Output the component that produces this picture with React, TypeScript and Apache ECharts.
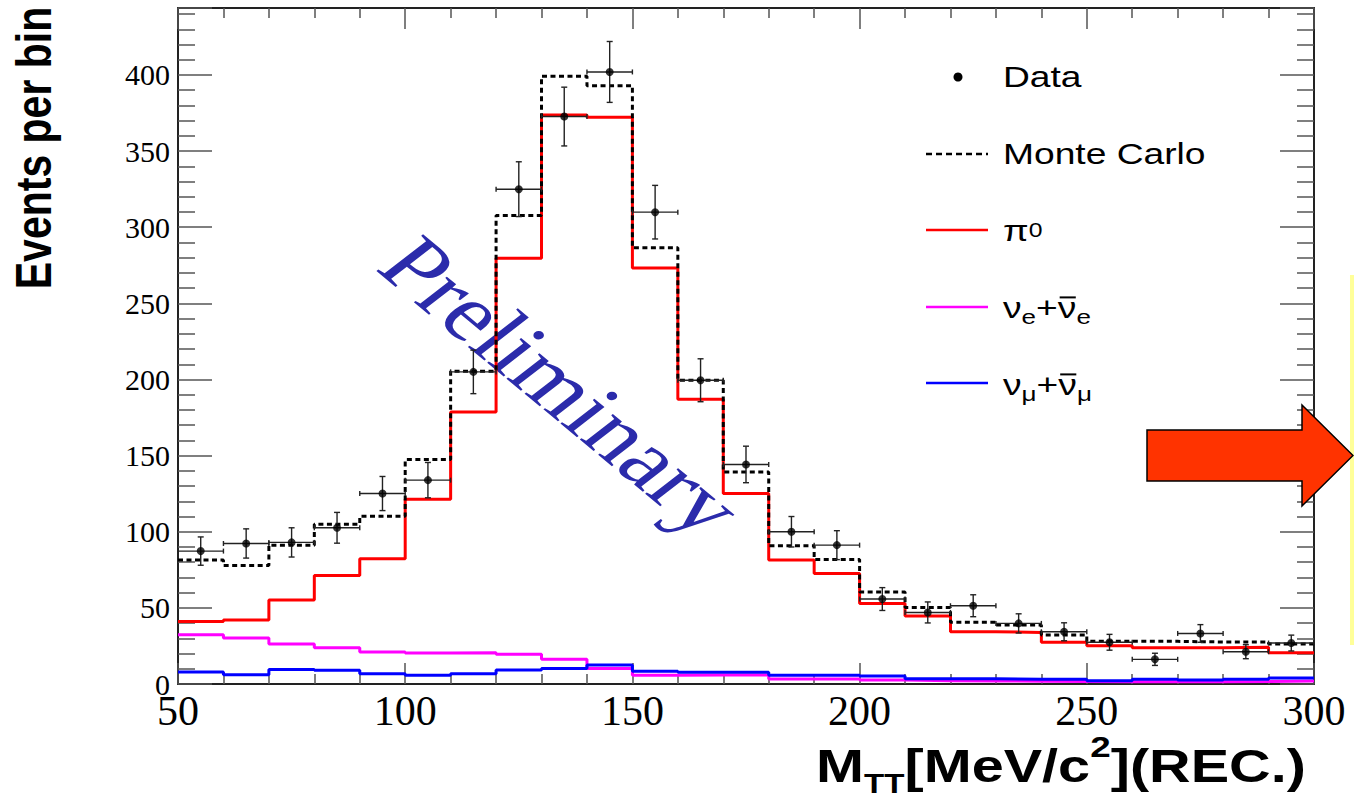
import React, { useEffect, useRef } from "react";
import * as echarts from "echarts";

// Histogram binning (MeV/c^2)
const binEdges = [50, 60, 70, 80, 90, 100, 110, 120, 130, 140, 150, 160, 170, 180, 190, 200, 210, 220, 230, 240, 250, 260, 270, 280, 290, 300];
const binCenters = [55, 65, 75, 85, 95, 105, 115, 125, 135, 145, 155, 165, 175, 185, 195, 205, 215, 225, 235, 245, 255, 265, 275, 285, 295];

// Measured events per bin and their statistical errors
const dataCounts = [87.3, 92.3, 93.0, 102.6, 125.1, 133.9, 205.0, 325.0, 372.7, 402.0, 309.9, 199.5, 144.2, 100.0, 91.2, 55.8, 47.0, 51.4, 39.8, 34.3, 27.4, 16.2, 33.2, 21.2, 26.9];
const dataErrors = [9.3, 9.6, 9.6, 10.1, 11.2, 11.6, 14.3, 18.0, 19.3, 20.0, 17.6, 14.1, 12.0, 10.0, 9.5, 7.5, 6.9, 7.2, 6.3, 5.9, 5.2, 4.0, 5.8, 4.6, 5.2];

// Simulated distributions
const monteCarlo = [81.4, 77.9, 91.2, 105.0, 110.2, 147.4, 205.4, 307.7, 399.2, 393.0, 286.5, 199.5, 139.3, 90.8, 81.8, 60.4, 50.3, 40.5, 38.7, 32.2, 28.0, 28.0, 27.6, 27.6, 26.2];
const pi0 = [41.0, 42.0, 55.1, 71.3, 82.2, 121.4, 178.7, 279.7, 373.8, 372.3, 273.2, 187.0, 125.1, 81.4, 72.6, 52.9, 44.6, 34.3, 33.9, 27.4, 25.2, 23.8, 23.8, 24.2, 20.6];
const nuE = [32.4, 30.2, 26.2, 23.8, 21.0, 20.3, 20.6, 19.5, 16.2, 10.1, 5.7, 5.9, 5.9, 3.3, 3.3, 2.6, 2.2, 2.0, 1.8, 1.6, 1.5, 1.5, 1.5, 1.6, 2.0];
const nuMu = [7.9, 6.1, 9.6, 9.0, 6.8, 5.7, 6.8, 9.2, 10.1, 12.5, 8.3, 7.7, 7.7, 5.7, 5.7, 5.2, 3.5, 3.5, 3.1, 3.1, 2.2, 3.1, 2.6, 3.1, 3.9];

const SANS = "Liberation Sans";
const SERIF = "Liberation Serif";

// histogram outline: one point per bin edge, last bin repeated to close the top
const stepData = (vals: number[]) =>
  binEdges.map((e, i) => [e, vals[Math.min(i, vals.length - 1)]]);

let measureCtx: CanvasRenderingContext2D | null = null;
function measure(t: string, size: number, weight: string) {
  if (!measureCtx) measureCtx = document.createElement("canvas").getContext("2d");
  measureCtx!.font = `${weight} ${size}px "${SANS}"`;
  return measureCtx!.measureText(t).width;
}

type Run = { t: string; size: number; dy: number; bar?: boolean };

// lays out a line of text pieces (with sub/superscripts) on a baseline at local y = 0
function textRuns(runs: Run[], weight: string, color: string) {
  const children: any[] = [];
  let cx = 0;
  for (const r of runs) {
    const w = measure(r.t, r.size, weight);
    children.push({
      type: "text",
      x: cx,
      y: r.dy - 0.3465 * r.size,
      style: {
        text: r.t,
        fontSize: r.size,
        fontWeight: weight,
        fontFamily: SANS,
        fill: color,
        align: "left",
        verticalAlign: "middle",
      },
    });
    if (r.bar) {
      const by = r.dy - 0.52 * r.size - 5;
      children.push({
        type: "line",
        shape: { x1: cx + 1.5, y1: by, x2: cx + w - 0.5, y2: by },
        style: { stroke: color, lineWidth: 2 },
      });
    }
    cx += w;
  }
  return { children, width: cx };
}

function buildGraphic() {
  const els: any[] = [];

  // y axis title
  els.push({
    type: "text",
    x: 33,
    y: 148,
    rotation: Math.PI / 2,
    scaleY: 1.24,
    style: {
      text: "Events per bin",
      fontSize: 41,
      fontWeight: "bold",
      fontFamily: SANS,
      fill: "#000",
      align: "center",
      verticalAlign: "middle",
    },
  });

  // x axis title
  const xt = textRuns(
    [
      { t: "M", size: 47, dy: 0 },
      { t: "TT", size: 27, dy: 11 },
      { t: "[MeV/c", size: 47, dy: 0 },
      { t: "2", size: 30, dy: -25 },
      { t: "](REC.)", size: 47, dy: 0 },
    ],
    "bold",
    "#000"
  );
  const xtScale = 490 / xt.width;
  els.push({ type: "group", x: 1306 - xt.width * xtScale, y: 782, scaleX: xtScale, children: xt.children });

  // legend
  const LS = 30;
  const SUB = 21;
  const legScale = 1.24;
  const legX = 1003;
  const legendRows: { runs: Run[]; baseline: number }[] = [
    { runs: [{ t: "Data", size: LS, dy: 0 }], baseline: 87 },
    { runs: [{ t: "Monte Carlo", size: LS, dy: 0 }], baseline: 164 },
    { runs: [{ t: "π", size: LS, dy: 0 }, { t: "0", size: 20, dy: -4 }], baseline: 241 },
    {
      runs: [
        { t: "ν", size: LS, dy: 0 },
        { t: "e", size: SUB, dy: 6 },
        { t: "+", size: LS, dy: 0 },
        { t: "ν", size: LS, dy: 0, bar: true },
        { t: "e", size: SUB, dy: 6 },
      ],
      baseline: 318,
    },
    {
      runs: [
        { t: "ν", size: LS, dy: 0 },
        { t: "μ", size: SUB, dy: 6 },
        { t: "+", size: LS, dy: 0 },
        { t: "ν", size: LS, dy: 0, bar: true },
        { t: "μ", size: SUB, dy: 6 },
      ],
      baseline: 395,
    },
  ];
  for (const row of legendRows) {
    const r = textRuns(row.runs, "normal", "#000");
    els.push({ type: "group", x: legX, y: row.baseline, scaleX: legScale, children: r.children });
  }
  // legend keys
  els.push({ type: "circle", shape: { cx: 958, cy: 77, r: 4.5 }, style: { fill: "#000" } });
  els.push({
    type: "line",
    shape: { x1: 926, y1: 154, x2: 988, y2: 154 },
    style: { stroke: "#000", lineWidth: 2.5, lineDash: [6, 4] },
  });
  const keyLines: [number, string][] = [
    [230, "#ff0000"],
    [307, "#ff00ff"],
    [383, "#0000ff"],
  ];
  for (const [y, c] of keyLines) {
    els.push({ type: "line", shape: { x1: 926, y1: y, x2: 988, y2: y }, style: { stroke: c, lineWidth: 2.5 } });
  }

  // watermark
  els.push({
    type: "group",
    x: 562,
    y: 386,
    scaleX: 1.25,
    children: [
      {
        type: "text",
        rotation: (-46 * Math.PI) / 180,
        style: {
          text: "Preliminary",
          fontSize: 80,
          fontFamily: SERIF,
          fill: "#2b2bab",
          align: "center",
          verticalAlign: "middle",
        },
      },
    ],
  });

  // side marker bar and arrow
  els.push({ type: "rect", shape: { x: 1350, y: 275, width: 4, height: 370 }, style: { fill: "#ffff99" } });
  els.push({
    type: "polygon",
    shape: {
      points: [
        [1147, 430],
        [1302, 430],
        [1302, 405],
        [1353, 455.5],
        [1302, 506],
        [1302, 481],
        [1147, 481],
      ],
    },
    style: { fill: "#ff3300", stroke: "#000", lineWidth: 1.5 },
  });

  return els.map((e) => ({ ...e, z: 100, silent: true }));
}

const tickStyle = { color: "#555", width: 1.5 };

function xAxisDef(position: "bottom" | "top") {
  return {
    type: "value",
    position,
    min: 50,
    max: 300,
    interval: 50,
    axisLine: { show: true, onZero: false, lineStyle: { color: "#222", width: 2 } },
    axisTick: { show: true, inside: true, length: 21, lineStyle: tickStyle },
    minorTick: { show: true, splitNumber: 5, length: 10, lineStyle: tickStyle },
    splitLine: { show: false },
    axisLabel: {
      show: position === "bottom",
      fontFamily: SERIF,
      fontSize: 42,
      color: "#000",
      margin: 6,
    },
  };
}

function yAxisDef(position: "left" | "right") {
  return {
    type: "value",
    position,
    min: 0,
    max: 444,
    interval: 50,
    axisLine: { show: true, onZero: false, lineStyle: { color: "#222", width: 2 } },
    axisTick: { show: true, inside: true, length: 34, lineStyle: tickStyle },
    minorTick: { show: true, splitNumber: 5, length: 17, lineStyle: tickStyle },
    splitLine: { show: false },
    axisLabel: {
      show: position === "left",
      fontFamily: SERIF,
      fontSize: 30,
      color: "#000",
      margin: 8,
      showMaxLabel: false,
      formatter: (v: number) => (v % 50 === 0 ? String(v) : ""),
    },
  };
}

function histSeries(name: string, vals: number[], color: string, z: number, dashed = false) {
  return {
    name,
    type: "line",
    step: "end",
    data: stepData(vals),
    symbol: "none",
    silent: true,
    z,
    lineStyle: { color, width: 3, type: dashed ? [5, 3.5] : "solid" },
  };
}

export default function App() {
  const ref = useRef<HTMLDivElement>(null);

  useEffect(() => {
    if (!ref.current) return;
    const chart = echarts.init(ref.current, undefined, { renderer: "svg" });

    const errorData = binCenters.map((c, i) => [c, dataCounts[i], dataErrors[i], binEdges[i], binEdges[i + 1]]);

    chart.setOption({
      animation: false,
      backgroundColor: "#fff",
      grid: { left: 178, right: 40, top: 8, bottom: 112, containLabel: false, outerBoundsMode: "none" },
      xAxis: [xAxisDef("bottom"), xAxisDef("top")],
      yAxis: [yAxisDef("left"), yAxisDef("right")],
      series: [
        histSeries("νe+ν̄e", nuE, "#ff00ff", 2),
        histSeries("νμ+ν̄μ", nuMu, "#0000ff", 3),
        histSeries("π0", pi0, "#ff0000", 4),
        histSeries("Monte Carlo", monteCarlo, "#000000", 5, true),
        {
          name: "Data errors",
          type: "custom",
          silent: true,
          z: 6,
          data: errorData,
          renderItem: (_params: any, api: any) => {
            const x = api.value(0);
            const y = api.value(1);
            const e = api.value(2);
            const lo = api.value(3);
            const hi = api.value(4);
            const top = api.coord([x, y + e]);
            const bot = api.coord([x, y - e]);
            const left = api.coord([lo, y]);
            const right = api.coord([hi, y]);
            const st = { stroke: "#222", lineWidth: 1.4 };
            const cw = 3;
            const ch = 2.5;
            return {
              type: "group",
              children: [
                { type: "line", shape: { x1: top[0], y1: top[1], x2: bot[0], y2: bot[1] }, style: st },
                { type: "line", shape: { x1: top[0] - cw, y1: top[1], x2: top[0] + cw, y2: top[1] }, style: st },
                { type: "line", shape: { x1: bot[0] - cw, y1: bot[1], x2: bot[0] + cw, y2: bot[1] }, style: st },
                { type: "line", shape: { x1: left[0], y1: left[1], x2: right[0], y2: right[1] }, style: st },
                { type: "line", shape: { x1: left[0], y1: left[1] - ch, x2: left[0], y2: left[1] + ch }, style: st },
                { type: "line", shape: { x1: right[0], y1: right[1] - ch, x2: right[0], y2: right[1] + ch }, style: st },
              ],
            };
          },
        },
        {
          name: "Data",
          type: "scatter",
          silent: true,
          z: 7,
          symbol: "circle",
          symbolSize: 8,
          itemStyle: { color: "#000" },
          data: binCenters.map((c, i) => [c, dataCounts[i]]),
        },
      ],
      graphic: buildGraphic(),
    });

    return () => chart.dispose();
  }, []);

  return (
    <div
      ref={ref}
      style={{ position: "fixed", left: 0, top: 0, width: 1354, height: 796, background: "#fff" }}
    />
  );
}
